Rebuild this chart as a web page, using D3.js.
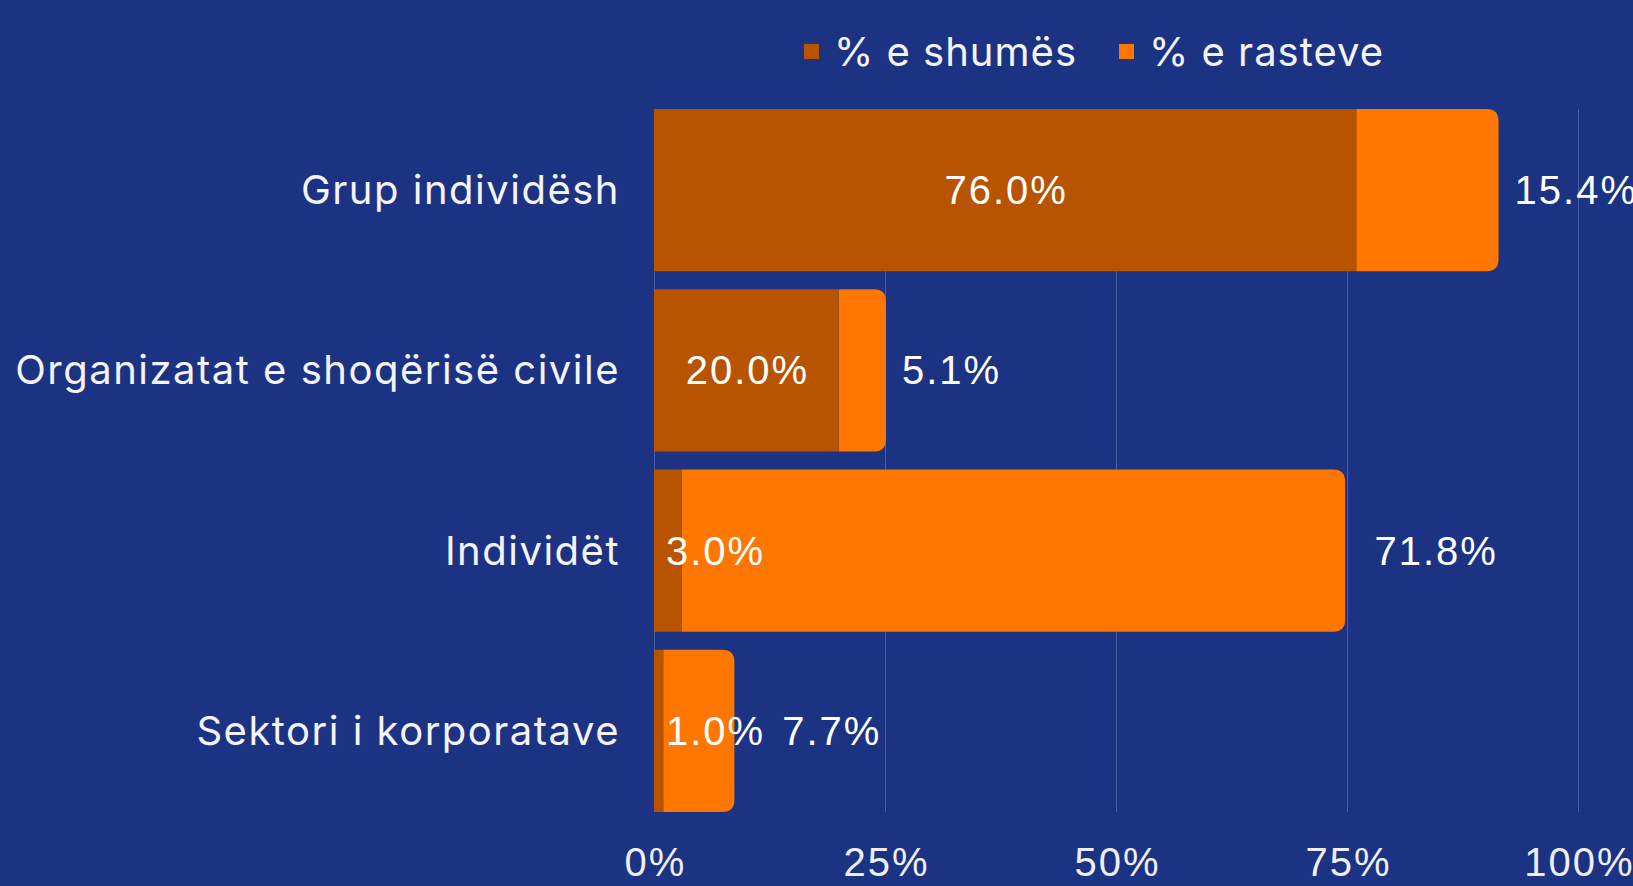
<!DOCTYPE html>
<html>
<head>
<meta charset="utf-8">
<script src="https://cdn.jsdelivr.net/npm/d3@7"></script>
<style>
  html, body { margin: 0; padding: 0; background: #1c3383; }
  svg { display: block; }
</style>
</head>
<body>
<svg id="chart" width="1633" height="886"></svg>
<script>
const categories = ["Grup individësh", "Organizatat e shoqërisë civile", "Individët", "Sektori i korporatave"];
const seriesNames = ["% e shumës", "% e rasteve"];
const shareOfAmount = [76.0, 20.0, 3.0, 1.0];
const shareOfCases = [15.4, 5.1, 71.8, 7.7];
const tickValues = [0, 25, 50, 75, 100];
const tickLabels = ["0%", "25%", "50%", "75%", "100%"];

const W = 1633, H = 886;
const colors = ["#b85400", "#ff7600"];
const bg = "#1c3383";
const gridColor = "#4a5fa3";
const textColor = "#ffffff";
const catFont = "Inter, 'Noto Sans', sans-serif";
const numFont = "'Liberation Sans', Arial, sans-serif";

const svg = d3.select("#chart");
svg.append("rect").attr("width", W).attr("height", H).attr("fill", bg);

const x = d3.scaleLinear().domain([0, 100]).range([654, 1578]);
const y = d3.scaleBand().domain(categories).range([100, 821]).paddingInner(0.1).paddingOuter(0.05);
const bw = y.bandwidth();
const top0 = y(categories[0]);
const bot0 = y(categories[categories.length - 1]) + bw;

// gridlines
const grid = svg.append("g").attr("transform", `translate(0,${top0})`)
  .call(d3.axisBottom(x).tickValues(tickValues).tickSize(bot0 - top0).tickFormat(""));
grid.select(".domain").remove();
grid.selectAll(".tick line").attr("stroke", gridColor).attr("stroke-width", 1);

// tick labels
const axis = svg.append("g").attr("transform", `translate(0,876)`)
  .call(d3.axisBottom(x).tickValues(tickValues).tickSize(0).tickPadding(0)
    .tickFormat((d, i) => tickLabels[i]));
axis.select(".domain").remove();
axis.selectAll(".tick text")
  .attr("y", 0).attr("dy", 0)
  .attr("dx", 1)
  .attr("fill", "#eeeef4")
  .style("font-family", numFont).style("font-size", "40px")
  .style("letter-spacing", "2px");

// data rows
const rows = categories.map((c, i) => ({
  cat: c, a: shareOfAmount[i], b: shareOfCases[i]
}));

const r = 12;
function roundedRight(x0, x1, y0, h) {
  const rr = Math.min(r, (x1 - x0), h / 2);
  return `M${x0},${y0}H${x1 - rr}Q${x1},${y0} ${x1},${y0 + rr}V${y0 + h - rr}Q${x1},${y0 + h} ${x1 - rr},${y0 + h}H${x0}Z`;
}

const g = svg.append("g");
rows.forEach(d => {
  const y0 = y(d.cat);
  g.append("path")
    .attr("d", roundedRight(x(d.a), x(d.a + d.b), y0, bw))
    .attr("fill", colors[1]);
  g.append("rect")
    .attr("x", x(0)).attr("y", y0)
    .attr("width", x(d.a) - x(0)).attr("height", bw)
    .attr("fill", colors[0]);
});

// category labels
svg.append("g").selectAll("text").data(rows).join("text")
  .attr("x", 620).attr("y", d => y(d.cat) + bw / 2)
  .attr("dy", "0.35em")
  .attr("text-anchor", "end")
  .attr("fill", "#f4f4f8")
  .style("font-family", catFont).style("font-size", "40px")
  .style("letter-spacing", "1.5px")
  .text(d => d.cat);

// value labels
const fmt = v => v.toFixed(1) + "%";
const labels = svg.append("g").style("font-family", numFont).style("font-size", "40px")
  .style("letter-spacing", "2px").attr("fill", textColor);
rows.forEach(d => {
  const cy = y(d.cat) + bw / 2;
  const t = labels.append("text").attr("y", cy).attr("dy", "0.35em").text(fmt(d.a));
  const tw = t.node().getComputedTextLength();
  const segW = x(d.a) - x(0);
  if (tw + 10 < segW) {
    t.attr("x", (x(0) + x(d.a)) / 2 + 1).attr("text-anchor", "middle");
  } else {
    t.attr("x", x(0) + 12).attr("text-anchor", "start");
  }
  const bx = Math.max(x(d.a + d.b) + 16, x(d.b) + 57);
  labels.append("text").attr("x", bx).attr("y", cy).attr("dy", "0.35em").text(fmt(d.b));
});

// legend
const leg = svg.append("g");
const legX = [804, 1119];
seriesNames.forEach((n, i) => {
  leg.append("rect").attr("x", legX[i]).attr("y", 44).attr("width", 15).attr("height", 15)
    .attr("fill", colors[i]);
  leg.append("text").attr("x", legX[i] + 30).attr("y", 52).attr("dy", "0.35em")
    .attr("fill", "#f4f4f8")
    .style("font-family", catFont).style("font-size", "40px")
    .style("letter-spacing", "1px")
    .text(n);
});
</script>
</body>
</html>
